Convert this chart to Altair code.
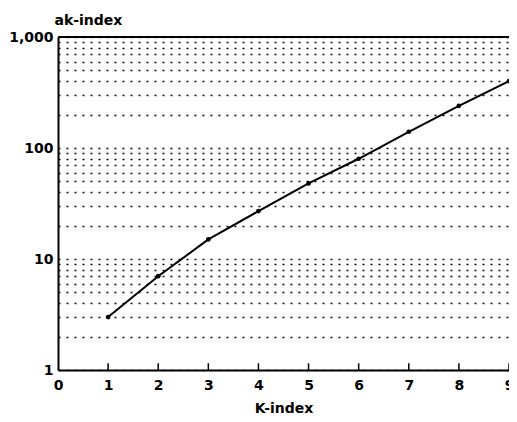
import altair as alt
import pandas as pd

# ---- data ----
k_index = [1, 2, 3, 4, 5, 6, 7, 8, 9]
ak_index = [3, 7, 15, 27, 48, 80, 140, 240, 400]
x_tick_values = [0, 1, 2, 3, 4, 5, 6, 7, 8, 9]
y_grid_values = [1, 2, 3, 4, 5, 6, 7, 8, 9,
                 10, 20, 30, 40, 50, 60, 70, 80, 90,
                 100, 200, 300, 400, 500, 600, 700, 800, 900, 1000]
y_label_values = [1, 10, 100, 1000]
top_value = [1000]

df = pd.DataFrame({"K": k_index, "ak": ak_index})
ticks_df = pd.DataFrame({"K": x_tick_values[1:],
                         "ak": [1] * (len(x_tick_values) - 1),
                         "ak_hi": [1.15] * (len(x_tick_values) - 1)})
top_df = pd.DataFrame({"ak": top_value})

FONT = "DejaVu Sans"

x_scale = alt.Scale(domain=[0, 9], nice=False, zero=False)
y_scale = alt.Scale(type="log", domain=[1, 1000], nice=False)

x_axis = alt.Axis(values=x_tick_values, title="K-index", ticks=False,
                  grid=False, labelFlush=False, labelFont=FONT,
                  labelFontSize=14, labelFontWeight="bold", labelColor="black",
                  labelPadding=8, titleFont=FONT, titleFontSize=14,
                  titleFontWeight="bold", titleColor="black", titlePadding=9,
                  domainColor="black", domainWidth=2)

label_list = "[" + ",".join(str(v) for v in y_label_values) + "]"
y_axis = alt.Axis(values=y_grid_values,
                  labelExpr=f"indexof({label_list}, datum.value) >= 0 ? format(datum.value, ',') : ''",
                  labelOverlap=False, labelFlush=False, ticks=False,
                  labelFont=FONT, labelFontSize=14, labelFontWeight="bold",
                  labelColor="black", labelPadding=5,
                  grid=True, gridColor="black", gridDash=[2, 6], gridWidth=1.7,
                  gridOpacity=0.95,
                  title="ak-index", titleAngle=0, titleAlign="left",
                  titleBaseline="alphabetic", titleX=-4, titleY=-13,
                  titleFont=FONT, titleFontSize=14, titleFontWeight="bold",
                  titleColor="black",
                  domainColor="black", domainWidth=2)

line = alt.Chart(df).mark_line(color="black", strokeWidth=2).encode(
    x=alt.X("K:Q", scale=x_scale, axis=x_axis),
    y=alt.Y("ak:Q", scale=y_scale, axis=y_axis),
)
points = alt.Chart(df).mark_circle(color="black", size=22, opacity=1).encode(
    x=alt.X("K:Q", scale=x_scale, axis=x_axis),
    y=alt.Y("ak:Q", scale=y_scale, axis=y_axis),
)
inner_ticks = alt.Chart(ticks_df).mark_rule(color="black", strokeWidth=1.5).encode(
    x=alt.X("K:Q", scale=x_scale, axis=x_axis),
    y=alt.Y("ak:Q", scale=y_scale, axis=y_axis),
    y2="ak_hi:Q",
)
top_border = alt.Chart(top_df).mark_rule(color="black", strokeWidth=2).encode(
    y=alt.Y("ak:Q", scale=y_scale, axis=y_axis),
)

chart = alt.layer(top_border, line, points, inner_ticks).properties(
    width=451, height=333,
    autosize=alt.AutoSizeParams(type="none"),
    padding={"left": 50, "top": 29, "right": 0, "bottom": 44},
    background="white",
).configure_view(stroke=None)

chart.save("out.html", embed_options={"renderer": "svg", "actions": False})
